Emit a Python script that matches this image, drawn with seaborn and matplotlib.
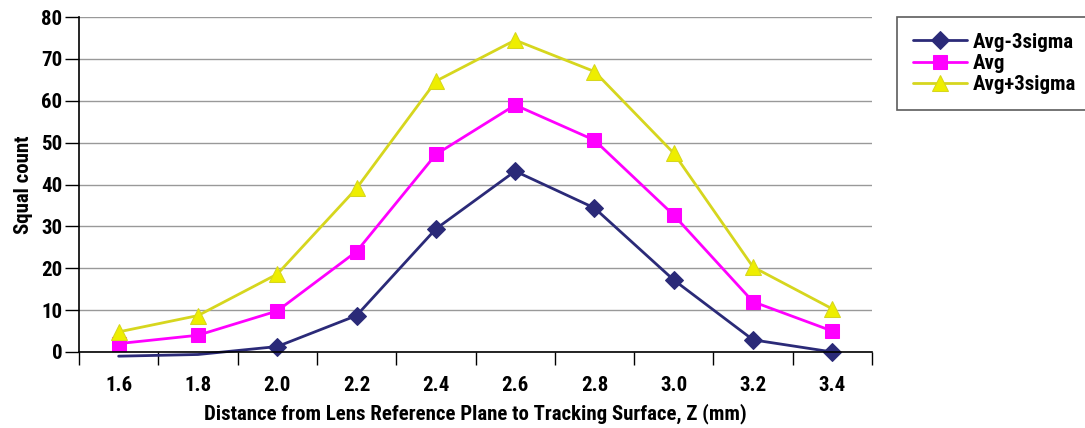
import matplotlib
matplotlib.use("Agg")
import matplotlib.pyplot as plt
import seaborn as sns
import pandas as pd
from matplotlib import font_manager
from matplotlib.ticker import FixedLocator

z_labels = ['1.6', '1.8', '2.0', '2.2', '2.4', '2.6', '2.8', '3.0', '3.2', '3.4']
avg_minus = [-1.0, -0.6, 1.3, 8.7, 29.4, 43.2, 34.4, 17.2, 2.9, 0.0]
avg = [2.0, 4.0, 9.8, 24.0, 47.2, 59.0, 50.6, 32.7, 12.0, 5.0]
avg_plus = [4.8, 8.7, 18.6, 39.1, 64.7, 74.5, 67.0, 47.5, 20.3, 10.3]

sns.set_style("white")

# find a condensed bold face, the reference uses a narrow font
cands = [f for f in font_manager.fontManager.ttflist
         if str(f.stretch) in ('condensed', 'semi-condensed', 'extra-condensed')
         or 'Narrow' in f.name or 'Condensed' in f.name]
pref = ['Liberation Sans Narrow', 'Roboto Condensed', 'Open Sans Condensed', 'DejaVu Sans']
fam, stretch = 'DejaVu Sans', 'condensed'
for p in pref:
    hit = [f for f in cands if f.name == p]
    if hit:
        fam, stretch = p, hit[0].stretch
        break
plt.rcParams['font.family'] = [fam, 'DejaVu Sans']
plt.rcParams['font.stretch'] = stretch
plt.rcParams['font.weight'] = 'bold'
plt.rcParams['text.color'] = 'black'
plt.rcParams['xtick.color'] = 'black'
plt.rcParams['ytick.color'] = 'black'
plt.rcParams['axes.labelcolor'] = 'black'

df = pd.DataFrame({'Z': z_labels, 'Avg-3sigma': avg_minus, 'Avg': avg, 'Avg+3sigma': avg_plus})

fig = plt.figure(figsize=(10.85, 4.28), dpi=100)
ax = fig.add_axes([0.0728, 0.1776, 0.7309, 0.7824])

shown = [i for i, v in enumerate(avg_minus) if v >= 0]
sns.lineplot(data=df, x='Z', y='Avg-3sigma', ax=ax, color='#2b2a78', marker='D', markersize=9,
             markeredgecolor='#2b2a78', linewidth=2, markevery=shown, clip_on=False, label='Avg-3sigma', sort=False)
sns.lineplot(data=df, x='Z', y='Avg', ax=ax, color='#ff00ff', marker='s', markersize=10,
             markeredgecolor='#ff00ff', linewidth=2, clip_on=False, label='Avg', sort=False)
sns.lineplot(data=df, x='Z', y='Avg+3sigma', ax=ax, color='#d6d61e', marker='^', markersize=12,
             markerfacecolor='#eeee00', markeredgecolor='#d6d61e', linewidth=2, clip_on=False,
             label='Avg+3sigma', sort=False)

ax.set_ylim(0, 80)
ax.set_xlim(-0.5, 9.5)
ax.set_yticks(range(0, 81, 10))
ax.yaxis.grid(True, color='#999999', linewidth=1)
ax.set_axisbelow(True)
for s in ['top', 'right']:
    ax.spines[s].set_visible(False)
ax.spines['left'].set_color('black')
ax.spines['bottom'].set_color('black')
ax.spines['left'].set_linewidth(1.2)
ax.spines['bottom'].set_linewidth(1.2)

ax.tick_params(axis='y', left=True, length=10, width=1, direction='out', labelsize=15, pad=2)
ax.tick_params(axis='x', which='major', bottom=False, labelsize=15, pad=14)
ax.xaxis.set_minor_locator(FixedLocator([i - 0.5 for i in range(11)]))
ax.tick_params(axis='x', which='minor', bottom=True, length=9, width=1, direction='out')

ax.set_xlabel('Distance from Lens Reference Plane to Tracking Surface, Z (mm)', fontsize=15, fontweight='bold', labelpad=6)
ax.set_ylabel('Squal count', fontsize=15, fontweight='bold', labelpad=6)
for t in ax.get_xticklabels() + ax.get_yticklabels():
    t.set_fontweight('bold')

h, l = ax.get_legend_handles_labels()
ax.get_legend().remove()
leg = fig.legend(h, l, loc='upper left', bbox_to_anchor=(0.8267, 0.960), borderaxespad=0,
                 frameon=True, fancybox=False, edgecolor='#333333', fontsize=15, borderpad=0.75,
                 handlelength=2.6, handletextpad=0.3, labelspacing=0.1)
leg.get_frame().set_linewidth(1.2)
for t in leg.get_texts():
    t.set_fontweight('bold')

fig.savefig('out.png', dpi=100)
